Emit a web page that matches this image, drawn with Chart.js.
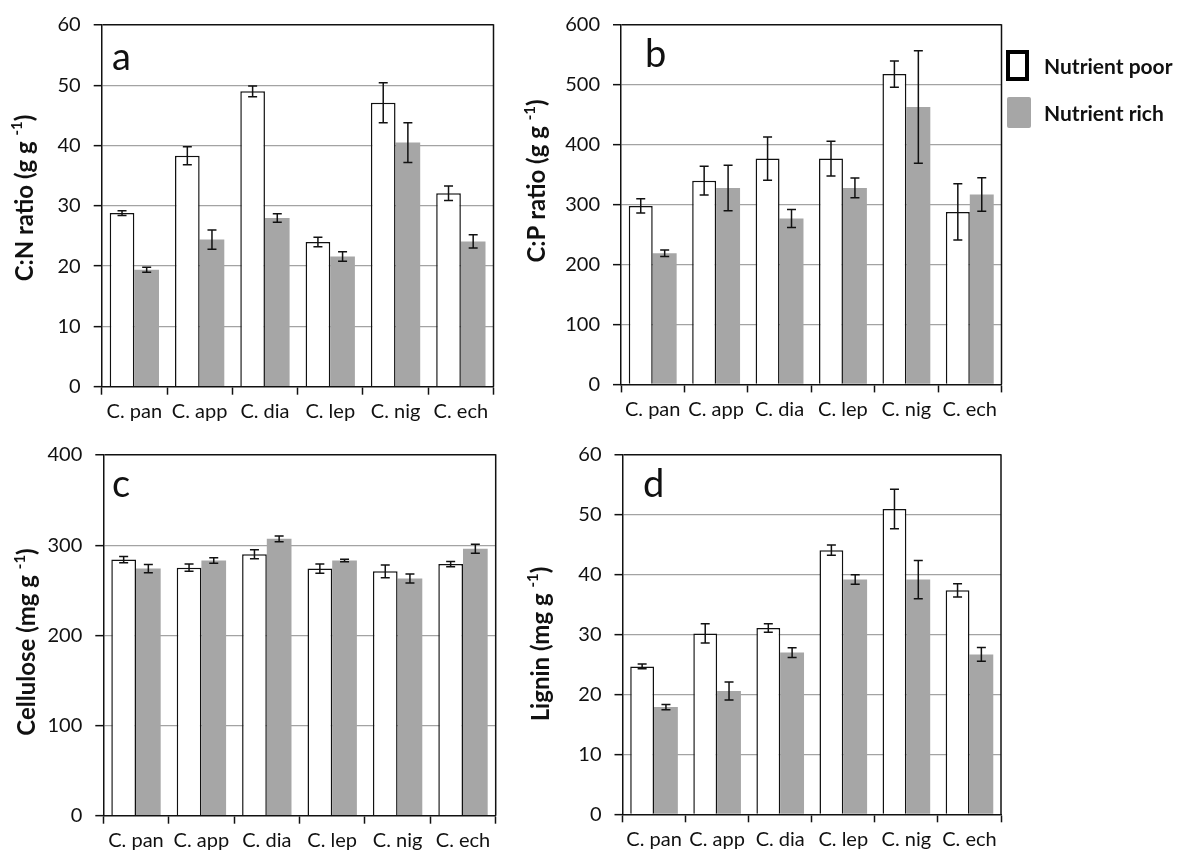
<!DOCTYPE html>
<html>
<head>
<meta charset="utf-8">
<script src="https://cdn.jsdelivr.net/npm/chart.js@4.4.1/dist/chart.umd.min.js"></script>
<style>
  html, body { margin: 0; padding: 0; background: #fff; }
  body { width: 1204px; height: 858px; position: relative; overflow: hidden; font-family: Lato, "Open Sans", sans-serif; }
  .panel { position: absolute; }
  .legend { position: absolute; left: 1006px; top: 50px; }
  .legend .row { position: absolute; left: 0; height: 31px; white-space: nowrap; }
  .legend .swatch { position: absolute; left: 0; top: 0; box-sizing: border-box; }
  .legend .label { position: absolute; left: 38px; top: 2px; font: bold 21px Lato, sans-serif; color: #111; line-height: 28px; }
</style>
</head>
<body>
<div class="panel" style="left:0;top:0;width:520px;height:430px"><canvas id="chartA"></canvas></div>
<div class="panel" style="left:510px;top:0;width:510px;height:430px"><canvas id="chartB"></canvas></div>
<div class="panel" style="left:0;top:430px;width:520px;height:428px"><canvas id="chartC"></canvas></div>
<div class="panel" style="left:510px;top:430px;width:510px;height:428px"><canvas id="chartD"></canvas></div>
<div class="legend" id="legend"></div>

<script>
// Species (x categories) and treatments (series)
const species = ['C. pan', 'C. app', 'C. dia', 'C. lep', 'C. nig', 'C. ech'];
const seriesNames = ['Nutrient poor', 'Nutrient rich'];

// a: C:N ratio (g g-1)
const cnPoor    = [28.8, 38.3, 49.0, 24.0, 47.1, 32.1];
const cnPoorErr = [0.4, 1.5, 0.9, 0.8, 3.3, 1.2];
const cnRich    = [19.4, 24.4, 28.0, 21.6, 40.5, 24.1];
const cnRichErr = [0.4, 1.6, 0.7, 0.8, 3.3, 1.1];

// b: C:P ratio (g g-1)
const cpPoor    = [298, 340, 377, 377, 518, 288];
const cpPoorErr = [12, 24, 36, 29, 22, 47];
const cpRich    = [219, 328, 277, 328, 463, 317];
const cpRichErr = [5.5, 38, 15, 16.5, 94, 28];

// c: Cellulose (mg g-1)
const celPoor    = [284, 275, 290, 274, 271, 279];
const celPoorErr = [3.5, 4, 5, 5, 7, 3];
const celRich    = [274, 283, 307, 283, 263, 296];
const celRichErr = [4.5, 3, 3.3, 1.5, 5, 5];

// d: Lignin (mg g-1)
const ligPoor    = [24.7, 30.2, 31.1, 44.1, 51.0, 37.4];
const ligPoorErr = [0.4, 1.6, 0.7, 0.85, 3.3, 1.1];
const ligRich    = [17.9, 20.6, 27.0, 39.2, 39.2, 26.7];
const ligRichErr = [0.45, 1.5, 0.8, 0.8, 3.2, 1.15];

// Axis ranges
const cnTicks  = { max: 60,  step: 10 };
const cpTicks  = { max: 600, step: 100 };
const celTicks = { max: 400, step: 100 };
const ligTicks = { max: 60,  step: 10 };

const FONT = 'Lato';
const RICH_GREY = '#a6a6a6';

// Mean ± SE whiskers on every bar
const errorBars = {
  id: 'errorBars',
  afterDatasetsDraw(chart) {
    const ctx = chart.ctx, ys = chart.scales.y;
    ctx.save();
    ctx.strokeStyle = '#111';
    ctx.lineWidth = 1.5;
    chart.data.datasets.forEach((ds, i) => {
      const meta = chart.getDatasetMeta(i);
      meta.data.forEach((bar, j) => {
        const v = ds.data[j], e = ds.errors[j];
        const x = bar.x;
        const yt = ys.getPixelForValue(v + e), yb = ys.getPixelForValue(v - e);
        ctx.beginPath();
        ctx.moveTo(x, yt); ctx.lineTo(x, yb);
        ctx.moveTo(x - 4.5, yt); ctx.lineTo(x + 4.5, yt);
        ctx.moveTo(x - 4.5, yb); ctx.lineTo(x + 4.5, yb);
        ctx.stroke();
      });
    });
    ctx.restore();
  }
};

// Right frame line, panel letter and the rotated y title with its superscript unit
const panelDecor = {
  id: 'panelDecor',
  afterDraw(chart, args, opts) {
    const ctx = chart.ctx, a = chart.chartArea;
    ctx.save();
    ctx.strokeStyle = '#111';
    ctx.lineWidth = 1.5;
    ctx.beginPath();
    ctx.moveTo(a.right, a.top - 0.75);
    ctx.lineTo(a.right, a.bottom);
    ctx.stroke();

    ctx.fillStyle = '#111';
    ctx.textAlign = 'left';
    ctx.textBaseline = 'alphabetic';
    ctx.font = '38px ' + FONT;
    ctx.fillText(opts.letter, opts.letterX, opts.letterY);

    ctx.translate(opts.titleX, opts.titleY);
    ctx.rotate(-Math.PI / 2);
    const big = 'bold ' + opts.titleSize + 'px ' + FONT;
    const small = 'bold ' + Math.round(opts.titleSize * 0.62) + 'px ' + FONT;
    ctx.font = big;
    const wMain = ctx.measureText(opts.title).width;
    const wTail = ctx.measureText(')').width;
    ctx.font = small;
    const wSup = ctx.measureText('-1').width;
    let x0 = -(wMain + wSup + wTail) / 2;
    ctx.textBaseline = 'middle';
    ctx.font = big;
    ctx.fillText(opts.title, x0, 0);
    x0 += wMain;
    ctx.font = small;
    ctx.fillText('-1', x0, -opts.titleSize * 0.32);
    x0 += wSup;
    ctx.font = big;
    ctx.fillText(')', x0, 0);
    ctx.restore();
  }
};

function makePanel(id, cfg) {
  const yMax = cfg.ticks.max;
  return new Chart(document.getElementById(id), {
    type: 'bar',
    data: {
      labels: species,
      datasets: [
        {
          label: seriesNames[0], data: cfg.poor, errors: cfg.poorErr,
          backgroundColor: '#ffffff', borderColor: '#111', borderWidth: 1.5,
          categoryPercentage: 0.755, barPercentage: 1.0
        },
        {
          label: seriesNames[1], data: cfg.rich, errors: cfg.richErr,
          backgroundColor: RICH_GREY, borderWidth: 0,
          categoryPercentage: 0.755, barPercentage: 1.0
        }
      ]
    },
    options: {
      responsive: true,
      maintainAspectRatio: false,
      animation: false,
      events: [],
      layout: { padding: { left: 0, top: cfg.padTop, right: cfg.padRight, bottom: 0 } },
      plugins: {
        legend: { display: false },
        tooltip: { enabled: false },
        panelDecor: cfg.decor
      },
      scales: {
        x: {
          afterFit: s => { s.height = cfg.xHeight; },
          grid: { display: true, drawOnChartArea: false, drawTicks: true, offset: true,
                  tickLength: 8, tickColor: '#111', tickWidth: 1.5 },
          border: { display: true, color: '#111', width: 1.5 },
          ticks: { font: { family: FONT, size: 20 }, color: '#111', padding: 5,
                   maxRotation: 0, autoSkip: false }
        },
        y: {
          min: 0, max: yMax,
          afterFit: s => { s.width = cfg.yWidth; },
          grid: {
            drawTicks: true, tickLength: 8, tickColor: '#111', tickWidth: 1.5,
            color: c => c.tick.value === yMax ? '#111' : (c.tick.value === 0 ? 'rgba(0,0,0,0)' : '#a3a3a3'),
            lineWidth: c => c.tick.value === yMax ? 1.5 : 1.3
          },
          border: { display: true, color: '#111', width: 1.5 },
          ticks: { stepSize: cfg.ticks.step, font: { family: FONT, size: 20 }, color: '#111', padding: 13 }
        }
      }
    },
    plugins: [errorBars, panelDecor]
  });
}

makePanel('chartA', {
  poor: cnPoor, poorErr: cnPoorErr, rich: cnRich, richErr: cnRichErr, ticks: cnTicks,
  padTop: 23.3, padRight: 26.5, yWidth: 101.7, xHeight: 43.3,
  decor: { letter: 'a', letterX: 112, letterY: 70, title: 'C:N ratio (g g ', titleSize: 24, titleX: 25, titleY: 198 }
});
makePanel('chartB', {
  poor: cpPoor, poorErr: cpPoorErr, rich: cpRich, richErr: cpRichErr, ticks: cpTicks,
  padTop: 22, padRight: 18.5, yWidth: 111, xHeight: 45.6,
  decor: { letter: 'b', letterX: 135, letterY: 67, title: 'C:P ratio (g g ', titleSize: 24, titleX: 27.5, titleY: 181 }
});
makePanel('chartC', {
  poor: celPoor, poorErr: celPoorErr, rich: celRich, richErr: celRichErr, ticks: celTicks,
  padTop: 22.3, padRight: 24.3, yWidth: 103.3, xHeight: 42.3,
  decor: { letter: 'c', letterX: 112, letterY: 67, title: 'Cellulose (mg g ', titleSize: 24, titleX: 27.5, titleY: 212 }
});
makePanel('chartD', {
  poor: ligPoor, poorErr: ligPoorErr, rich: ligRich, richErr: ligRichErr, ticks: ligTicks,
  padTop: 22.3, padRight: 19, yWidth: 112.5, xHeight: 43.7,
  decor: { letter: 'd', letterX: 133, letterY: 67, title: 'Lignin (mg g ', titleSize: 24, titleX: 31, titleY: 214 }
});

// Legend for both treatments
const legend = document.getElementById('legend');
seriesNames.forEach((name, i) => {
  const row = document.createElement('div');
  row.className = 'row';
  row.style.top = (i * 47) + 'px';
  const sw = document.createElement('div');
  sw.className = 'swatch';
  if (i === 0) {
    sw.style.cssText += 'width:23px;height:31px;border:4px solid #000;background:#fff;';
  } else {
    sw.style.cssText += 'left:1px;width:24px;height:31px;background:' + RICH_GREY + ';border-radius:2px;';
  }
  const lab = document.createElement('div');
  lab.className = 'label';
  lab.textContent = name;
  row.appendChild(sw);
  row.appendChild(lab);
  legend.appendChild(row);
});
</script>
</body>
</html>
